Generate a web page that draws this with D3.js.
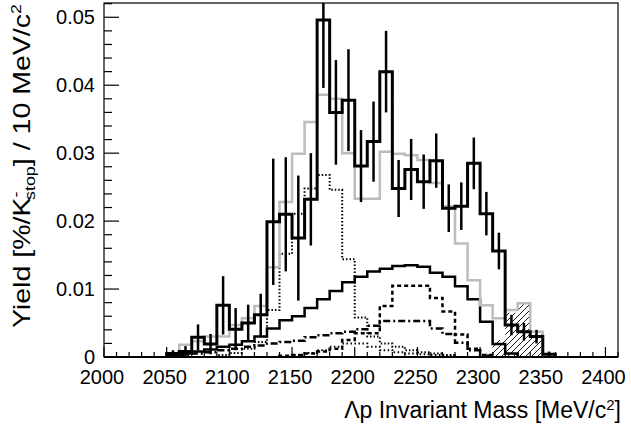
<!DOCTYPE html>
<html><head><meta charset="utf-8">
<script src="https://cdn.jsdelivr.net/npm/d3@7"></script>
<style>
html,body{margin:0;padding:0;background:#fff;}
svg{display:block;font-family:"Liberation Sans",Arial,Helvetica,sans-serif;}
</style></head>
<body><svg id="c" width="631" height="426"></svg>
<script>
// bin low edges (10 MeV bins)
const binLow = [2040,2050,2060,2070,2080,2090,2100,2110,2120,2130,2140,2150,2160,2170,2180,2190,2200,2210,2220,2230,2240,2250,2260,2270,2280,2290,2300,2310,2320,2330,2340,2350,2360];
const binWidth = 10;
// measured yield
const dataY   = [0,0.0005,0.0008,0.0029,0.0019,0.0076,0.0041,0.0050,0.0062,0.0199,0.0210,0.0175,0.0232,0.0496,0.0360,0.0378,0.0281,0.0317,0.0420,0.0248,0.0276,0.0258,0.0289,0.0219,0.0222,0.0285,0.0211,0.0156,0.0047,0.0037,0.0030,0.0004,0];
const dataErr = [0,0.0005,0.0008,0.0019,0.0015,0.0043,0.0031,0.0027,0.0031,0.0093,0.0084,0.0092,0.0068,0.0100,0.0077,0.0075,0.0053,0.0059,0.0060,0.0042,0.0045,0.0040,0.0040,0.0035,0.0035,0.0038,0.0032,0.0027,0.0015,0.0013,0.0010,0.0004,0];
// total fit (grey)
const totalFit = [0,0.0005,0.0018,0.0023,0.0030,0.0030,0.0047,0.0057,0.0075,0.0132,0.0228,0.0299,0.0346,0.0386,0.0380,0.0300,0.0233,0.0233,0.0302,0.0299,0.0297,0.0290,0.0256,0.0222,0.0167,0.0113,0.0076,0.0057,0.0069,0.0079,0.0037,0,0];
// components
const compSolid = [0,0.0003,0.0005,0.0008,0.0011,0.0015,0.0018,0.0023,0.0030,0.0042,0.0054,0.0060,0.0072,0.0085,0.0097,0.0110,0.0118,0.0126,0.0130,0.0134,0.0135,0.0133,0.0124,0.0118,0.0104,0.0085,0.0052,0.0019,0.0005,0,0,0,0];
const compDotted = [0,0,0,0,0,0.0003,0.0006,0.0012,0.0022,0.0069,0.0152,0.0211,0.0248,0.0268,0.0246,0.0144,0.0058,0.0030,0.0020,0.0015,0.0010,0.0007,0.0005,0.0003,0,0,0,0,0,0,0,0,0];
const compDashed = [0,0,0,0,0,0,0,0,0,0,0.0002,0.0003,0.0005,0.0008,0.0012,0.0025,0.0035,0.0035,0.0075,0.0105,0.0105,0.0105,0.0087,0.0067,0.0033,0.0012,0.0003,0,0,0,0,0,0];
const compDashDot = [0,0,0.0003,0.0005,0.0007,0.0010,0.0012,0.0015,0.0017,0.0020,0.0022,0.0024,0.0029,0.0032,0.0035,0.0037,0.0041,0.0046,0.0053,0.0053,0.0053,0.0053,0.0042,0.0034,0.0021,0.0010,0.0002,0,0,0,0,0,0];
const compDotted2 = [0,0,0,0,0,0,0,0,0,0,0,0.0003,0.0006,0.0010,0.0015,0.0020,0.0020,0.0015,0.0010,0.0007,0.0005,0.0004,0.0003,0.0002,0,0,0,0,0,0,0,0,0];
const compHatched = [0,0,0,0,0,0,0,0,0,0,0,0,0,0,0,0,0,0,0,0,0,0,0,0,0,0,0.0005,0.0025,0.0065,0.0078,0.0037,0,0];
// axes
const xTicks = [2000,2050,2100,2150,2200,2250,2300,2350,2400];
const yTicks = [0,0.01,0.02,0.03,0.04,0.05];
const xDomain = [2000,2410];
const yDomain = [0,0.0521];

const svg = d3.select("#c");
const L=104, R=618, T=3, B=357;
const x = d3.scaleLinear().domain(xDomain).range([L,R]);
const y = d3.scaleLinear().domain(yDomain).range([B,T]);

const defs = svg.append("defs");
const pat = defs.append("pattern").attr("id","hatch").attr("patternUnits","userSpaceOnUse")
  .attr("width",6).attr("height",6);
pat.append("path").attr("d","M-1,1 l2,-2 M0,6 l6,-6 M5,7 l2,-2").attr("stroke","#000").attr("stroke-width",0.9);

const clip = defs.append("clipPath").attr("id","frame");
clip.append("rect").attr("x",L).attr("y",T).attr("width",R-L).attr("height",B-T);

function stepPoints(vals){
  const pts=[];
  const first = vals.findIndex(v=>v>0);
  let last = vals.length-1; while(last>0 && vals[last]<=0) last--;
  if(first<0) return pts;
  pts.push([binLow[first],0]);
  for(let i=first;i<=last;i++){
    pts.push([binLow[i],vals[i]]);
    pts.push([binLow[i]+binWidth,vals[i]]);
  }
  pts.push([binLow[last]+binWidth,0]);
  return pts;
}
const line = d3.line().x(d=>x(d[0])).y(d=>y(d[1]));
const area = d3.area().x(d=>x(d[0])).y0(y(0)).y1(d=>y(d[1]));

const g = svg.append("g").attr("clip-path","url(#frame)");

// hatched component
g.append("path").attr("d",area(stepPoints(compHatched))).attr("fill","url(#hatch)").attr("stroke","none");

function hist(vals, color, width, dash){
  g.append("path").attr("d",line(stepPoints(vals))).attr("fill","none")
   .attr("stroke",color).attr("stroke-width",width)
   .attr("stroke-dasharray",dash||null).attr("stroke-linejoin","miter");
}
hist(compDotted2,"#000",2,"1.5,2.5");
hist(compDashDot,"#000",2.5,"7,3,2,3");
hist(compDashed,"#000",2.5,"4,3");
hist(compDotted,"#000",2,"1.5,2");
hist(compSolid,"#000",2.5);
hist(totalFit,"#bdbdbd",2.5);
hist(dataY,"#000",3);

// error bars
g.selectAll("line.err").data(binLow.map((b,i)=>({b,v:dataY[i],e:dataErr[i]})).filter(d=>d.e>0))
 .join("line").attr("class","err")
 .attr("x1",d=>x(d.b+binWidth/2)).attr("x2",d=>x(d.b+binWidth/2))
 .attr("y1",d=>y(d.v-d.e)).attr("y2",d=>y(d.v+d.e))
 .attr("stroke","#000").attr("stroke-width",2.5);

// frame
svg.append("rect").attr("x",L).attr("y",T).attr("width",R-L).attr("height",B-T)
  .attr("fill","none").attr("stroke","#000").attr("stroke-width",1.2);
svg.append("line").attr("x1",L).attr("x2",R).attr("y1",B).attr("y2",B).attr("stroke","#000").attr("stroke-width",2);

// y ticks
const yMinor = d3.range(0,0.0521,0.002);
svg.append("g").selectAll("line").data(yMinor).join("line")
  .attr("x1",L).attr("x2",(d,i)=> i%5===0? L+15 : L+8)
  .attr("y1",d=>y(d)).attr("y2",d=>y(d)).attr("stroke","#000").attr("stroke-width",1.2);
svg.append("g").selectAll("text").data(yTicks).join("text")
  .attr("x",L-9).attr("y",d=>y(d)+7).attr("text-anchor","end")
  .attr("font-size",20).text(d=>d===0?"0":d3.format(".2f")(d));

// x ticks
const xMinor = d3.range(2000,2411,10);
svg.append("g").selectAll("line").data(xMinor).join("line")
  .attr("y1",B).attr("y2",d=> d%50===0? B-10 : B-5)
  .attr("x1",d=>x(d)).attr("x2",d=>x(d)).attr("stroke","#000").attr("stroke-width",1.2);
svg.append("g").selectAll("text").data(xTicks).join("text")
  .attr("x",d=>x(d)-2).attr("y",B+27).attr("text-anchor","middle")
  .attr("font-size",20).text(d=>d);

// axis titles
const xt = svg.append("text").attr("x",621).attr("y",418).attr("text-anchor","end").attr("font-size",23);
xt.append("tspan").text("Λp Invariant Mass [MeV/c");
xt.append("tspan").attr("font-size",15).attr("dy",-8).text("2");
xt.append("tspan").attr("dy",8).text("]");

const yt = svg.append("text").attr("transform","translate(30,4) rotate(-90) scale(1.19,1)").attr("text-anchor","end").attr("font-size",24);
yt.append("tspan").text("Yield [%/K");
yt.append("tspan").attr("font-size",15).attr("dy",-9).text("-");
yt.append("tspan").attr("font-size",15).attr("dy",14).attr("dx",-7).text("stop");
yt.append("tspan").attr("dy",-5).text("] / 10 MeV/c");
yt.append("tspan").attr("font-size",15).attr("dy",-9).text("2");
</script></body></html>
